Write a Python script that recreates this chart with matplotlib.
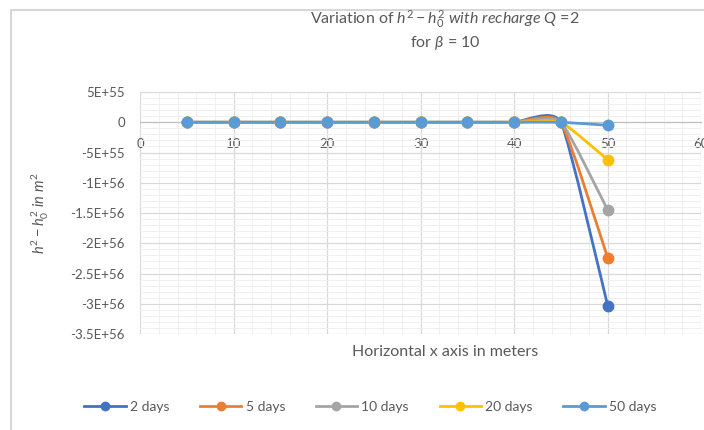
import numpy as np
import matplotlib
matplotlib.use('Agg')
import matplotlib.pyplot as plt
from matplotlib.path import Path
from matplotlib.patches import PathPatch, Rectangle
from matplotlib.lines import Line2D
from matplotlib.ticker import FuncFormatter, MultipleLocator

plt.rcParams['font.family'] = ['Lato', 'DejaVu Sans']
plt.rcParams['mathtext.fontset'] = 'custom'
plt.rcParams['mathtext.rm'] = 'Lato'
plt.rcParams['mathtext.it'] = 'Lato:italic'

#data
x = [5, 10, 15, 20, 25, 30, 35, 40, 45, 50]
labels = ['2 days', '5 days', '10 days', '20 days', '50 days']
days_2 = [0, 0, 0, 0, 0, 0, 0, 0, 0, -3.03e56]
days_5 = [0, 0, 0, 0, 0, 0, 0, 0, 0, -2.24e56]
days_10 = [0, 0, 0, 0, 0, 0, 0, 0, 0, -1.45e56]
days_20 = [0, 0, 0, 0, 0, 0, 0, 0, 0, -0.62e56]
days_50 = [0, 0, 0, 0, 0, 0, 0, 0, 0, -0.05e56]
series = [days_2, days_5, days_10, days_20, days_50]
colors = ['#4472C4', '#ED7D31', '#A5A5A5', '#FFC000', '#5B9BD5']

fig = plt.figure(figsize=(7.04, 4.30), dpi=100)
ax = fig.add_axes([0.199, 0.223, 0.797, 0.563])

#smoothed line like excel (bezier between the points)
def smooth_path(xs, ys, k=1/12):
    P = np.column_stack([xs, ys]).astype(float)
    verts = [P[0]]
    codes = [Path.MOVETO]
    n = len(P)
    for i in range(n - 1):
        p0 = P[i - 1] if i > 0 else P[i]
        p3 = P[i + 2] if i + 2 < n else P[i + 1]
        c1 = P[i] + (P[i + 1] - p0) * k
        c2 = P[i + 1] - (p3 - P[i]) * k
        verts += [c1, c2, P[i + 1]]
        codes += [Path.CURVE4] * 3
    return Path(verts, codes)

for s, c in zip(series, colors):
    ax.add_patch(PathPatch(smooth_path(x, s), facecolor='none', edgecolor=c,
                           lw=2.0, transform=ax.transData, zorder=3))
    ax.plot(x, s, 'o', color=c, ms=7.5, zorder=4)

ax.set_xlim(0, 60)
ax.set_ylim(-3.5e56, 5e55)
ax.xaxis.set_major_locator(MultipleLocator(10))
ax.xaxis.set_minor_locator(MultipleLocator(2))
ax.yaxis.set_major_locator(MultipleLocator(5e55))
ax.yaxis.set_minor_locator(MultipleLocator(1e55))

def excel_fmt(v, pos):
    if abs(v) < 1e40:
        return '0'
    e = int(np.floor(np.log10(abs(v)) + 1e-9))
    m = v / 10**e
    ms = ('%.1f' % m).rstrip('0').rstrip('.')
    return '%sE+%d' % (ms, e)

ax.yaxis.set_major_formatter(FuncFormatter(excel_fmt))
ax.grid(which='major', color='#d9d9d9', lw=0.9)
ax.grid(which='minor', color='#f0f0f0', lw=0.7)
ax.set_axisbelow(True)

for sp in ['top', 'right', 'left']:
    ax.spines[sp].set_visible(False)
ax.spines['bottom'].set_position(('data', 0))
ax.spines['bottom'].set_color('#bfbfbf')
ax.tick_params(which='both', length=0, labelsize=9.5, labelcolor='#595959')
ax.tick_params(axis='x', pad=11)
ax.tick_params(axis='y', pad=11)

fig.text(0.057, 0.505, r'$h^2 - h_0^2\ in\ m^2$', rotation=90, ha='center', va='center',
         fontsize=10.5, color='#595959')
fig.text(0.632, 0.182, 'Horizontal x axis in meters', ha='center', va='center',
         fontsize=11.5, color='#595959')
fig.text(0.632, 0.955, r'Variation of $h^2 - h_0^2\ with\ recharge\ Q$ =2',
         ha='center', va='center', fontsize=11.5, color='#595959')
fig.text(0.632, 0.900, r'for $\beta$ = 10', ha='center', va='center',
         fontsize=11.5, color='#595959')

handles = [Line2D([], [], color=c, lw=2.0, marker='o', ms=6) for c in colors]
fig.legend(handles, labels, loc='center', bbox_to_anchor=(0.526, 0.053), ncol=5,
           frameon=False, fontsize=10, labelcolor='#595959', handlelength=3.0,
           handletextpad=0.3, columnspacing=2.2)

fig.patches.append(Rectangle((0.016, -0.1), 1.1, 1.077, transform=fig.transFigure,
                             fill=False, edgecolor='#d0d0d0', lw=1.2))

fig.savefig('out.png', dpi=100)
